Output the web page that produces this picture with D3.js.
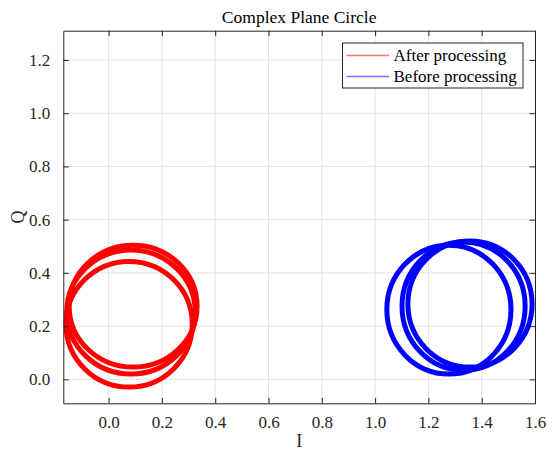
<!DOCTYPE html>
<html>
<head>
<meta charset="utf-8">
<script src="https://cdn.jsdelivr.net/npm/d3@7"></script>
<style>
  html, body { margin: 0; padding: 0; background: #fff; }
  svg { display: block; font-family: "Liberation Serif", "Times New Roman", serif; }
</style>
</head>
<body>
<div id="chart"></div>
<script>
// series names (legend order)
const seriesNames = ["After processing", "Before processing"];
const seriesColors = ["#ff0000", "#0000ff"];

// loops of the "after processing" trace: centre and radii in I/Q units
const afterI = [0.092, 0.084, 0.077];
const afterQ = [0.275, 0.253, 0.207];
const afterRI = [0.240, 0.241, 0.237];
const afterRQ = [0.229, 0.233, 0.236];

// loops of the "before processing" trace
const beforeI = [1.277, 1.332, 1.356];
const beforeQ = [0.262, 0.275, 0.283];
const beforeRI = [0.233, 0.231, 0.233];
const beforeRQ = [0.242, 0.241, 0.237];

const xTicks = [0, 0.2, 0.4, 0.6, 0.8, 1.0, 1.2, 1.4, 1.6];
const yTicks = [0, 0.2, 0.4, 0.6, 0.8, 1.0, 1.2];
const xDomain = [-0.17, 1.6];
const yDomain = [-0.09, 1.31];

const width = 553, height = 450;
const margin = { top: 30.7, right: 18, bottom: 46.7, left: 63.3 };
const innerW = width - margin.left - margin.right;
const innerH = height - margin.top - margin.bottom;
const axisColor = "#262626";

const svg = d3.select("#chart").append("svg")
    .attr("width", width)
    .attr("height", height);

const x = d3.scaleLinear().domain(xDomain).range([0, innerW]);
const y = d3.scaleLinear().domain(yDomain).range([innerH, 0]);

const g = svg.append("g")
    .attr("transform", `translate(${margin.left},${margin.top})`);

svg.append("defs").append("clipPath").attr("id", "plot-clip")
    .append("rect").attr("width", innerW).attr("height", innerH);

// grid
g.append("g").selectAll("line").data(xTicks).join("line")
    .attr("x1", d => x(d)).attr("x2", d => x(d))
    .attr("y1", 0).attr("y2", innerH)
    .attr("stroke", "#e3e3e3").attr("stroke-width", 1);
g.append("g").selectAll("line").data(yTicks).join("line")
    .attr("y1", d => y(d)).attr("y2", d => y(d))
    .attr("x1", 0).attr("x2", innerW)
    .attr("stroke", "#e3e3e3").attr("stroke-width", 1);

// loops
const loops = [
    { color: seriesColors[0], I: afterI, Q: afterQ, rI: afterRI, rQ: afterRQ },
    { color: seriesColors[1], I: beforeI, Q: beforeQ, rI: beforeRI, rQ: beforeRQ }
];
const plot = g.append("g").attr("clip-path", "url(#plot-clip)");
loops.forEach(s => {
    plot.append("g").selectAll("ellipse").data(s.I.map((v, i) => i)).join("ellipse")
        .attr("cx", i => x(s.I[i]))
        .attr("cy", i => y(s.Q[i]))
        .attr("rx", i => x(s.I[i] + s.rI[i]) - x(s.I[i]))
        .attr("ry", i => y(s.Q[i]) - y(s.Q[i] + s.rQ[i]))
        .attr("fill", "none")
        .attr("stroke", s.color)
        .attr("stroke-width", 5);
});

// axes (ticks pointing inwards, box on)
const tickLen = 5.5;
const fmt = d3.format(".1f");
const xAxisB = g.append("g").attr("transform", `translate(0,${innerH})`)
    .call(d3.axisBottom(x).tickValues(xTicks).tickSizeInner(-tickLen).tickSizeOuter(0).tickPadding(13).tickFormat(fmt));
const xAxisT = g.append("g")
    .call(d3.axisTop(x).tickValues(xTicks).tickSizeInner(-tickLen).tickSizeOuter(0).tickFormat(""));
const yAxisL = g.append("g")
    .call(d3.axisLeft(y).tickValues(yTicks).tickSizeInner(-tickLen).tickSizeOuter(0).tickPadding(13).tickFormat(fmt));
const yAxisR = g.append("g").attr("transform", `translate(${innerW},0)`)
    .call(d3.axisRight(y).tickValues(yTicks).tickSizeInner(-tickLen).tickSizeOuter(0).tickFormat(""));

[xAxisB, xAxisT, yAxisL, yAxisR].forEach(a => {
    a.select(".domain").attr("stroke", axisColor).attr("stroke-width", 1);
    a.selectAll(".tick line").attr("stroke", axisColor).attr("stroke-width", 1);
    a.selectAll(".tick text")
        .attr("fill", axisColor)
        .style("font-family", "'Liberation Serif', 'Times New Roman', serif")
        .style("font-size", "17px");
});
xAxisB.selectAll(".tick text").attr("dy", "0.71em");

// title and axis labels
svg.append("text")
    .attr("x", margin.left + innerW / 2).attr("y", 23)
    .attr("text-anchor", "middle")
    .attr("fill", "#000")
    .style("font-size", "17.5px")
    .text("Complex Plane Circle");

svg.append("text")
    .attr("x", margin.left + innerW / 2).attr("y", 447)
    .attr("text-anchor", "middle")
    .attr("fill", axisColor)
    .style("font-size", "18px")
    .text("I");

svg.append("text")
    .attr("transform", `translate(24,${margin.top + innerH / 2}) rotate(-90)`)
    .attr("text-anchor", "middle")
    .attr("fill", axisColor)
    .style("font-size", "18px")
    .text("Q");

// legend
const legend = svg.append("g").attr("transform", "translate(342.5,43)");
legend.append("rect")
    .attr("width", 180.5).attr("height", 45)
    .attr("fill", "#fff")
    .attr("stroke", axisColor).attr("stroke-width", 1);
seriesNames.forEach((name, i) => {
    const row = legend.append("g").attr("transform", `translate(0,${12.5 + i * 21})`);
    row.append("line")
        .attr("x1", 4).attr("x2", 46.5)
        .attr("stroke", seriesColors[i]).attr("stroke-opacity", 0.55)
        .attr("stroke-width", 1.5);
    row.append("text")
        .attr("x", 51).attr("dy", "0.35em")
        .attr("fill", "#000")
        .style("font-size", "17px")
        .text(name);
});
</script>
</body>
</html>
